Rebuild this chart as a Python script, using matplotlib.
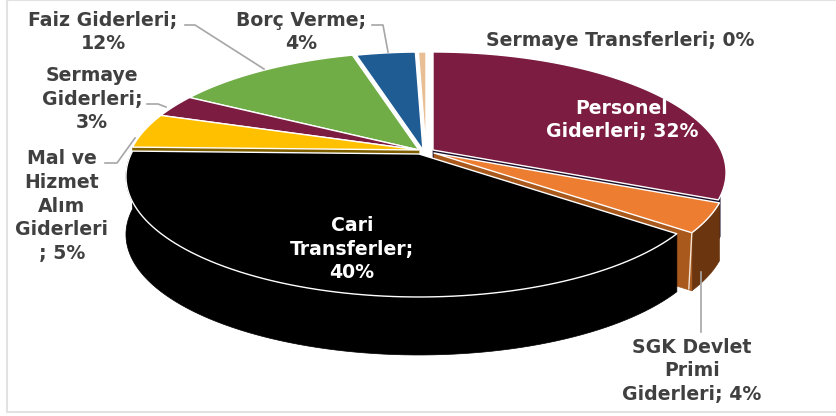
import numpy as np
import matplotlib
matplotlib.use('Agg')
import matplotlib.pyplot as plt

# slices, clockwise from 12 o'clock
categories = ['Personel\nGiderleri', 'SGK Devlet\nPrimi\nGiderleri', 'Cari\nTransferler',
              'Mal ve\nHizmet\nAlım\nGiderleri\n', 'Sermaye\nGiderleri', 'Faiz Giderleri',
              'Borç Verme', 'Sermaye Transferleri']
shares = [31.5, 3.9, 40.0, 4.7, 3.1, 12.4, 3.9, 0.5]

top_colors = ['#7B1C40', '#ED7D31', '#000000', '#FFC000', '#7B1C40', '#70AD47', '#1F5C94', '#E8BE94']

# layout (pixels of the 836x416 picture)
CX, CY = 426, 153
A, B, K = 287.9, 116.3, 0.1866
DEPTH = 58
offsets = [(7, -3), (8, 0), (-7, 1), (-7, -3), (-7, -3), (-7, -3), (-3, -3), (0, -3)]

label_pos = [(622, 120), (692, 371), (352, 249), (62, 206), (92, 99), (103, 32), (301, 32), (620, 40)]
same_line = [0, 1, 3, 7]  # labels that keep the percentage on the name's last line
leaders = [
    [(185, 25), (195, 25), (264, 69)],
    [(372, 25), (383, 25), (388, 52)],
    [(147, 104), (158, 104), (166, 107)],
    [(105, 163), (117, 163), (135, 138)],
    [(701, 332), (701, 272)],
]

GREY = '#404040'


def project(theta, off=(0, 0), r=1.0):
    """Disc point (degrees clockwise from top) to picture pixels, with perspective."""
    t = np.radians(theta)
    x, y = r * np.sin(t), r * np.cos(t)
    w = 1 + K * y
    return CX + off[0] + A * x / w, CY + off[1] - B * y / w


def top_face(ax, t1, t2, off, color):
    th = np.linspace(t1, t2, 90)
    xs, ys = project(th, off)
    cx, cy = CX + off[0], CY + off[1]
    ax.fill(np.r_[cx, xs], np.r_[cy, ys], facecolor=color, edgecolor='white', linewidth=1.0,
            joinstyle='round')


def wall(ax, t1, t2, off, color, depth=DEPTH):
    th = np.linspace(t1, t2, 90)
    xs, ys = project(th, off)
    ax.fill(np.r_[xs, xs[::-1]], np.r_[ys, ys[::-1] + depth], facecolor=color,
            edgecolor=color, linewidth=0.5)


def cut_face(ax, theta, off, color, depth=DEPTH):
    x, y = project(theta, off)
    cx, cy = CX + off[0], CY + off[1]
    ax.fill([cx, x, x, cx], [cy, y, y + depth, cy + depth], facecolor=color,
            edgecolor=color, linewidth=0.5)


fig = plt.figure(figsize=(8.36, 4.16), dpi=100)
ax = fig.add_axes([0, 0, 1, 1])
ax.set_xlim(0, 836)
ax.set_ylim(416, 0)
ax.axis('off')

# picture frame
ax.plot([7, 7, 836], [0, 412, 412], color='#E2E2E2', linewidth=1.5)
ax.plot([7, 836], [0, 0], color='#E2E2E2', linewidth=1.5)

edges = np.r_[0, np.cumsum(shares)] / np.sum(shares) * 360
t1s, t2s = edges[:-1], edges[1:]

# back slices first, Personel / SGK / Cari stack up in front of them
for i in [7, 6, 5, 4]:
    top_face(ax, t1s[i], t2s[i], offsets[i], top_colors[i])

cut_face(ax, t1s[3], offsets[3], '#7F6000')
top_face(ax, t1s[3], t2s[3], offsets[3], top_colors[3])

wall(ax, t2s[0] - 1.5, t2s[0], offsets[0], '#1A0F2A', depth=40)
cut_face(ax, t2s[0], offsets[0], '#1A0F2A', depth=8)
top_face(ax, t1s[0], t2s[0], offsets[0], top_colors[0])

wall(ax, t1s[1], t2s[1], offsets[1], '#6B3510')
cut_face(ax, t2s[1], offsets[1], '#A9591C')
x_end, y_end = project(t2s[1], offsets[1])
ax.plot([x_end, x_end - 3], [y_end, y_end + DEPTH - 2], color='#F3E3D3', linewidth=1.0)
top_face(ax, t1s[1], t2s[1], offsets[1], top_colors[1])

wall(ax, t1s[2], t2s[2], offsets[2], '#000000')
top_face(ax, t1s[2], t2s[2], offsets[2], top_colors[2])

# leader lines
for pts in leaders:
    ax.plot(*zip(*pts), color='#A6A6A6', linewidth=1.2)

# labels
font = dict(family='DejaVu Sans', fontweight='bold', fontsize=13.6, ha='center', va='center',
            linespacing=1.3)
for i, name in enumerate(categories):
    pct = int(round(shares[i]))
    sep = ' ' if i in same_line else '\n'
    txt = f'{name};{sep}{pct}%'
    color = 'white' if i in (0, 2) else GREY
    ax.text(label_pos[i][0], label_pos[i][1], txt, color=color, **font)

fig.savefig('out.png', dpi=100)
